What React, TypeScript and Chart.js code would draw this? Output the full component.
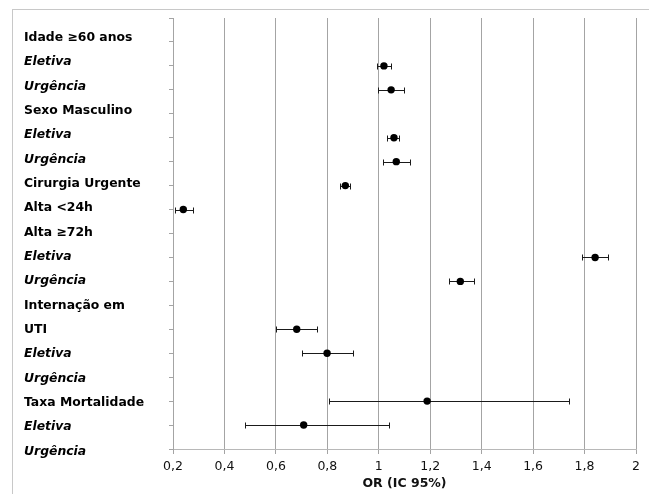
import React, { useEffect, useRef } from "react";
import { Chart, registerables } from "chart.js";

Chart.register(...registerables);

const rowLabels = [
  "Idade ≥60 anos",
  "Eletiva",
  "Urgência",
  "Sexo Masculino",
  "Eletiva",
  "Urgência",
  "Cirurgia Urgente",
  "Alta <24h",
  "Alta ≥72h",
  "Eletiva",
  "Urgência",
  "Internação em",
  "UTI",
  "Eletiva",
  "Urgência",
  "Taxa Mortalidade",
  "Eletiva",
  "Urgência",
];
const italicRows = [false, true, true, false, true, true, false, false, false, true, true, false, false, true, true, false, true, true];
const orValues = [null, 1.02, 1.048, null, 1.059, 1.068, 0.87, 0.24, null, 1.841, 1.317, null, 0.681, 0.799, null, 1.188, 0.708, null];
const ciLow = [null, 0.992, 0.998, null, 1.031, 1.018, 0.851, 0.209, null, 1.789, 1.272, null, 0.599, 0.7, null, 0.808, 0.481, null];
const ciHigh = [null, 1.049, 1.099, null, 1.079, 1.12, 0.887, 0.277, null, 1.891, 1.369, null, 0.76, 0.9, null, 1.741, 1.04, null];
const xTickValues = [0.2, 0.4, 0.6, 0.8, 1, 1.2, 1.4, 1.6, 1.8, 2];
const xTickLabels = ["0,2", "0,4", "0,6", "0,8", "1", "1,2", "1,4", "1,6", "1,8", "2"];
const xTitle = "OR (IC 95%)";

const FONT = "'DejaVu Sans', sans-serif";
const N = rowLabels.length; // 18
const rowToY = (i: number) => N - 1 - i;

const errorBarPlugin = {
  id: "errorBars",
  beforeDatasetsDraw(chart: any) {
    const { ctx, scales } = chart;
    const xs = scales.x;
    const ys = scales.y;
    ctx.save();
    ctx.strokeStyle = "#1a1a1a";
    ctx.lineWidth = 1;
    for (let i = 0; i < N; i++) {
      const lo = ciLow[i];
      const hi = ciHigh[i];
      if (lo == null || hi == null) continue;
      const py = Math.round(ys.getPixelForValue(rowToY(i))) + 0.5;
      const x1 = Math.round(xs.getPixelForValue(lo)) + 0.5;
      const x2 = Math.round(xs.getPixelForValue(hi)) + 0.5;
      ctx.beginPath();
      ctx.moveTo(x1, py);
      ctx.lineTo(x2, py);
      ctx.moveTo(x1, py - 3);
      ctx.lineTo(x1, py + 3);
      ctx.moveTo(x2, py - 3);
      ctx.lineTo(x2, py + 3);
      ctx.stroke();
    }
    ctx.restore();
  },
};

export default function App() {
  const ref = useRef<HTMLCanvasElement | null>(null);

  useEffect(() => {
    if (!ref.current) return;
    const points = orValues
      .map((v, i) => (v == null ? null : { x: v, y: rowToY(i) }))
      .filter((p) => p !== null);

    const chart = new Chart(ref.current, {
      type: "scatter",
      data: {
        datasets: [
          {
            data: points as any,
            backgroundColor: "#000",
            borderWidth: 0,
            pointRadius: 3.7,
            pointHoverRadius: 3.7,
          },
        ],
      },
      plugins: [errorBarPlugin],
      options: {
        animation: false,
        responsive: false,
        maintainAspectRatio: false,
        devicePixelRatio: 1,
        layout: { padding: { left: 24, top: 18, right: 13, bottom: 0 } },
        plugins: { legend: { display: false }, tooltip: { enabled: false } },
        scales: {
          x: {
            type: "linear",
            min: 0.2,
            max: 2,
            afterBuildTicks: (scale: any) => {
              scale.ticks = xTickValues.map((v) => ({ value: v }));
            },
            afterFit: (scale: any) => {
              scale.height = 45;
            },
            ticks: {
              color: "#111",
              font: { family: FONT, size: 12.5 },
              padding: 5,
              maxRotation: 0,
              autoSkip: false,
              callback: (v: any) => {
                const idx = xTickValues.findIndex((t) => Math.abs(t - Number(v)) < 1e-6);
                return idx >= 0 ? xTickLabels[idx] : "";
              },
            },
            grid: {
              color: "#a4a4a4",
              lineWidth: 1,
              drawTicks: true,
              tickLength: 5,
            },
            border: { display: true, color: "#b8b8b8" },
            title: {
              display: true,
              text: xTitle,
              color: "#111",
              font: { family: FONT, size: 12.5, weight: "bold" },
              padding: { top: 2, bottom: 3 },
            },
          },
          y: {
            type: "linear",
            position: "left",
            weight: 0,
            min: 0,
            max: N,
            afterBuildTicks: (scale: any) => {
              const t = [];
              for (let v = 0; v <= N; v++) t.push({ value: v });
              scale.ticks = t;
            },
            afterFit: (scale: any) => {
              scale.width = 4;
            },
            ticks: { display: false },
            grid: {
              drawOnChartArea: false,
              color: "#a4a4a4",
              tickLength: 4,
            },
            border: { display: true, color: "#a4a4a4" },
          },
          yLabels: {
            type: "linear",
            position: "left",
            weight: 1,
            min: 0.0945,
            max: 17.81,
            afterBuildTicks: (scale: any) => {
              const t = [];
              for (let v = 0; v < N; v++) t.push({ value: v });
              scale.ticks = t;
            },
            afterFit: (scale: any) => {
              scale.width = 145;
            },
            ticks: {
              color: "#000",
              crossAlign: "far",
              autoSkip: false,
              padding: 0,
              font: (ctx: any) => {
                const i = ctx && ctx.tick ? N - 1 - ctx.tick.value : -1;
                const it = i >= 0 && i < N ? italicRows[i] : false;
                return { family: FONT, size: 12.4, weight: "bold", style: it ? "italic" : "normal" } as any;
              },
              callback: (v: any) => {
                const i = N - 1 - Math.round(Number(v));
                return i >= 0 && i < N ? rowLabels[i] : "";
              },
            },
            grid: { display: false, drawTicks: false, tickLength: 0 },
            border: { display: false },
          },
        },
      } as any,
    });
    return () => chart.destroy();
  }, []);

  return (
    <div style={{ position: "fixed", left: 0, top: 0, width: 649, height: 494, background: "#fff", overflow: "hidden" }}>
      <div
        style={{
          position: "absolute",
          left: 12,
          top: 9,
          width: 660,
          height: 500,
          borderTop: "1px solid #c8c8c8",
          borderLeft: "1px solid #c8c8c8",
          boxSizing: "border-box",
        }}
      />
      <canvas ref={ref} width={649} height={494} style={{ position: "absolute", left: 0, top: 0, width: 649, height: 494 }} />
    </div>
  );
}
